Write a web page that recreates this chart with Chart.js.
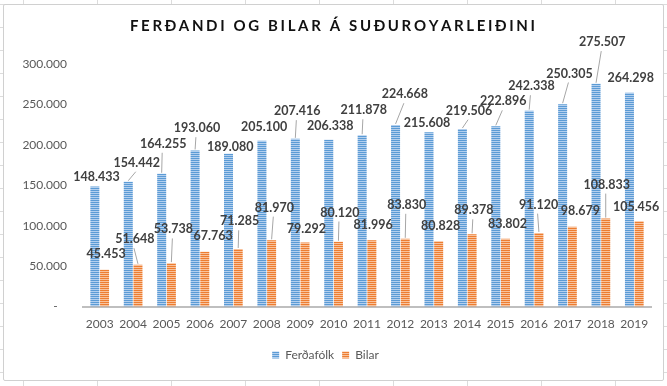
<!DOCTYPE html>
<html>
<head>
<meta charset="utf-8">
<script src="https://cdn.jsdelivr.net/npm/chart.js@4/dist/chart.umd.min.js"></script>
<style>
  html, body { margin: 0; padding: 0; }
  body {
    width: 667px; height: 386px; position: relative; overflow: hidden;
    background-color: #fff;
    background-image: linear-gradient(to right, #dcdcdc 1px, transparent 1px),
                      linear-gradient(to bottom, #dcdcdc 1px, transparent 1px);
    background-size: 74px 23px;
    background-position: 23px 4px;
  }
  #frame {
    position: absolute; left: 3px; top: 4px; width: 661px; height: 377px;
    box-sizing: border-box; border: 1px solid #d0d0d0; border-radius: 2px; background: #fff;
  }
  #chart { position: absolute; left: 0; top: 0; }
</style>
</head>
<body>
<div id="frame"></div>
<canvas id="chart" width="667" height="386"></canvas>
<script>
const chartTitle = 'FERÐANDI OG BILAR Á SUÐUROYARLEIÐINI'
const years = ['2003', '2004', '2005', '2006', '2007', '2008', '2009', '2010', '2011',
  '2012', '2013', '2014', '2015', '2016', '2017', '2018', '2019']
const travellers = [148433, 154442, 164255, 193060, 189080, 205100, 207416, 206338, 211878,
  224668, 215608, 219506, 222896, 242338, 250305, 275507, 264298]
const cars = [45453, 51648, 53738, 67763, 71285, 81970, 79292, 80120, 81996,
  83830, 80828, 89378, 83802, 91120, 98679, 108833, 105456]
const yTicks = [0, 50000, 100000, 150000, 200000, 250000, 300000]

// where Excel pushed each data label, relative to the top of its bar (px)
const travellerLabelShift = [[1.7, -10], [8.5, -19], [1.5, -30], [1.8, -22.3], [1.7, -7], [2.2, -14],
  [2, -27.7], [1.5, -13.7], [1.7, -25], [9.3, -30.7], [-2, -9.3], [6.7, -18.4], [7.5, -25],
  [2.2, -24.4], [6.8, -30.7], [6.2, -41.7], [1.3, -15]]
const carLabelShift = [[1.5, -15.7], [-3, -25.7], [2, -33.7], [8.3, -15.7], [1.5, -27.7], [2.7, -32.7],
  [1.3, -14], [1.5, -29.3], [1.3, -15], [1.5, -34], [2, -15], [1.7, -24], [2, -15],
  [-0.3, -28.3], [8, -16.3], [1, -34], [-3, -14.4]]

const fmt = v => String(v).replace(/\B(?=(\d{3})+(?!\d))/g, '.')

const canvas = document.querySelector('#chart')
const ctx = canvas.getContext('2d')

function stripes (dark, light) {
  const p = document.createElement('canvas')
  p.width = 4
  p.height = 2
  const g = p.getContext('2d')
  g.fillStyle = dark
  g.fillRect(0, 0, 4, 1)
  g.fillStyle = light
  g.fillRect(0, 1, 4, 1)
  return ctx.createPattern(p, 'repeat')
}

const bluePattern = stripes('#5B9BD5', '#B3CFEE')
const orangePattern = stripes('#ED7D31', '#F8C29C')

const titlePlugin = {
  id: 'spacedTitle',
  afterDraw (chart) {
    const c = chart.ctx
    c.save()
    c.font = 'bold 15px Lato'
    c.fillStyle = '#111'
    c.textBaseline = 'middle'
    c.textAlign = 'left'
    const chars = [...chartTitle]
    const plain = chars.reduce((s, ch) => s + c.measureText(ch).width, 0)
    const target = 405
    const gap = (target - plain) / (chars.length - 1)
    let x = 332.5 - target / 2
    chars.forEach(ch => {
      c.fillText(ch, x, 26.5)
      x += c.measureText(ch).width + gap
    })
    c.restore()
  }
}

const labelPlugin = {
  id: 'barLabels',
  afterDatasetsDraw (chart) {
    const c = chart.ctx
    const shifts = [travellerLabelShift, carLabelShift]
    c.save()
    c.font = 'bold 12.5px Lato'
    c.textAlign = 'center'
    c.textBaseline = 'middle'
    chart.data.datasets.forEach((ds, d) => {
      chart.getDatasetMeta(d).data.forEach((bar, i) => {
        const [dx, dy] = shifts[d][i]
        const x = bar.x + dx
        const y = bar.y + dy
        if (dy <= -18) {
          c.strokeStyle = '#a6a6a6'
          c.lineWidth = 1
          c.beginPath()
          c.moveTo(x - 1, y + 9)
          c.lineTo(bar.x, bar.y - 1)
          c.stroke()
        }
        c.fillStyle = '#404040'
        c.fillText(fmt(ds.data[i]), x, y)
      })
    })
    c.restore()
  }
}

// eslint-disable-next-line no-unused-vars, no-undef
const chart = new Chart(canvas, {
  type: 'bar',
  data: {
    labels: years,
    datasets: [{
      label: 'Ferðafólk',
      data: travellers,
      backgroundColor: bluePattern,
      borderWidth: 0,
      categoryPercentage: 0.58,
      barPercentage: 0.93
    }, {
      label: 'Bilar',
      data: cars,
      backgroundColor: orangePattern,
      borderWidth: 0,
      categoryPercentage: 0.58,
      barPercentage: 0.93
    }]
  },
  options: {
    responsive: false,
    animation: false,
    devicePixelRatio: 1,
    layout: { padding: { top: 64, right: 16, bottom: 15, left: 0 } },
    scales: {
      x: {
        grid: { display: false, drawTicks: false },
        border: { display: true, color: '#bfbfbf', width: 2 },
        ticks: { color: '#595959', font: { family: 'Lato', size: 12 }, padding: 10, maxRotation: 0 }
      },
      y: {
        min: 0,
        max: 300000,
        afterBuildTicks: s => { s.ticks = yTicks.map(v => ({ value: v })) },
        afterFit: s => { s.width = 83 },
        grid: { display: false, drawTicks: false },
        border: { display: false },
        ticks: {
          color: '#595959',
          font: { family: 'Lato', size: 12 },
          padding: 16,
          callback: v => v === 0 ? '-   ' : fmt(v)
        }
      }
    },
    plugins: {
      title: { display: false },
      tooltip: { enabled: false },
      legend: {
        position: 'bottom',
        labels: {
          boxWidth: 7,
          boxHeight: 7,
          padding: 8,
          color: '#595959',
          font: { family: 'Lato', size: 12 }
        }
      }
    }
  },
  plugins: [titlePlugin, labelPlugin]
})
</script>
</body>
</html>
